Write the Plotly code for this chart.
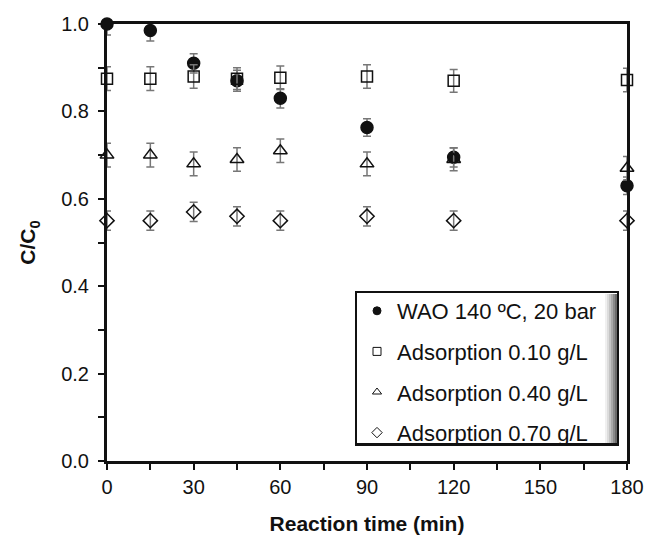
from plotly import graph_objects as go

# 反応時間 (min)
time_min = [0, 15, 30, 45, 60, 90, 120, 180]

# C/C0 の値
wao = [1.00, 0.985, 0.91, 0.87, 0.83, 0.763, 0.695, 0.63]
ads_010 = [0.875, 0.875, 0.88, 0.875, 0.877, 0.88, 0.87, 0.872]
ads_040 = [0.70, 0.70, 0.68, 0.69, 0.71, 0.68, 0.69, 0.67]
ads_070 = [0.55, 0.55, 0.57, 0.56, 0.55, 0.56, 0.55, 0.55]

# 誤差
err_wao = [0.025, 0.024, 0.022, 0.024, 0.022, 0.02, 0.022, 0.02]
err_010 = [0.027, 0.027, 0.027, 0.025, 0.027, 0.027, 0.026, 0.027]
err_040 = [0.027, 0.027, 0.027, 0.027, 0.027, 0.027, 0.026, 0.027]
err_070 = [0.022, 0.022, 0.022, 0.022, 0.022, 0.022, 0.022, 0.022]

names = ['WAO 140 ºC, 20 bar', 'Adsorption 0.10 g/L',
         'Adsorption 0.40 g/L', 'Adsorption 0.70 g/L']

series = [
    (wao, err_wao, 'circle', 12),
    (ads_010, err_010, 'square-open', 11),
    (ads_040, err_040, 'triangle-up-open', 12),
    (ads_070, err_070, 'diamond-open', 11),
]

# プロット領域 (ページ上のピクセル) -> paper 座標
PX0, PX1, PY0, PY1 = 107, 627, 461, 24


def px(x):
    return (x - PX0) / (PX1 - PX0)


def py(y):
    return (PY0 - y) / (PY0 - PY1)


fig = go.Figure()

for i, ((y, err, symbol, size), name) in enumerate(zip(series, names)):
    fig.add_trace(go.Scatter(
        x=time_min, y=y, mode='markers', name=name, showlegend=False,
        marker=dict(symbol=symbol, size=size, color='#111111',
                    line=dict(color='#111111', width=1.5)),
        error_y=dict(type='data', array=err, color='#777777',
                     thickness=1.5, width=4),
        cliponaxis=False,
    ))
    # 凡例用（小さいマーカー）
    fig.add_trace(go.Scatter(
        x=[None], y=[None], mode='markers', name=name,
        legendgroup=f'g{i}',
        marker=dict(symbol=symbol, size=8, color='#111111',
                    line=dict(color='#111111', width=1)),
    ))

# 凡例の枠と影
fig.add_shape(type='rect', xref='paper', yref='paper',
              x0=px(356), x1=px(618), y0=py(445), y1=py(292),
              fillcolor='white', line=dict(color='#111111', width=2),
              layer='below')
shade = [(605, 607, '#f0f0f0'), (607, 609, '#dcdcdc'),
         (609, 611, '#c4c4c4'), (611, 613, '#a8a8a8'),
         (613, 615, '#8a8a8a'), (615, 617, '#6a6a6a')]
for x0, x1, c in shade:
    fig.add_shape(type='rect', xref='paper', yref='paper',
                  x0=px(x0), x1=px(x1), y0=py(444), y1=py(294),
                  fillcolor=c, line=dict(width=0), layer='below')
fig.add_shape(type='line', xref='paper', yref='paper',
              x0=px(357), x1=px(618), y0=py(444), y1=py(444),
              line=dict(color='#111111', width=2), layer='below')

# ブラウザの body margin (8px) 分を差し引いたサイズ
fig.update_layout(
    width=648, height=534,
    margin=dict(l=99, r=29, t=16, b=81),
    plot_bgcolor='white', paper_bgcolor='white',
    font=dict(family='Liberation Sans, Arial', size=20, color='#111111'),
    showlegend=True,
    legend=dict(x=px(357), y=py(290), xanchor='left', yanchor='top',
                bgcolor='rgba(0,0,0,0)', borderwidth=0,
                font=dict(size=22), itemwidth=30,
                traceorder='grouped', tracegroupgap=9),
    xaxis=dict(
        range=[0, 180], tickvals=[0, 30, 60, 90, 120, 150, 180],
        showgrid=False, zeroline=False, automargin=False,
        showline=True, linecolor='#111111', linewidth=3, mirror=True,
        ticks='outside', ticklen=6, tickwidth=2, tickcolor='#111111',
        minor=dict(dtick=15, ticks='outside', ticklen=6, tickwidth=2,
                   tickcolor='#111111', showgrid=False),
        title=dict(text='<b>Reaction time (min)</b>', standoff=20,
                   font=dict(size=21)),
    ),
    yaxis=dict(
        range=[0, 1.0], dtick=0.2, tickformat='.1f',
        showgrid=False, zeroline=False, automargin=False,
        showline=True, linecolor='#111111', linewidth=3, mirror=True,
        ticks='outside', ticklen=6, tickwidth=2, tickcolor='#111111',
        ticklabelstandoff=5,
        minor=dict(dtick=0.1, ticks='outside', ticklen=6, tickwidth=2,
                   tickcolor='#111111', showgrid=False),
        title=dict(text='<b>C/C<sub>0</sub></b>', standoff=20,
                   font=dict(size=21)),
    ),
)

fig.write_html("out.html")
